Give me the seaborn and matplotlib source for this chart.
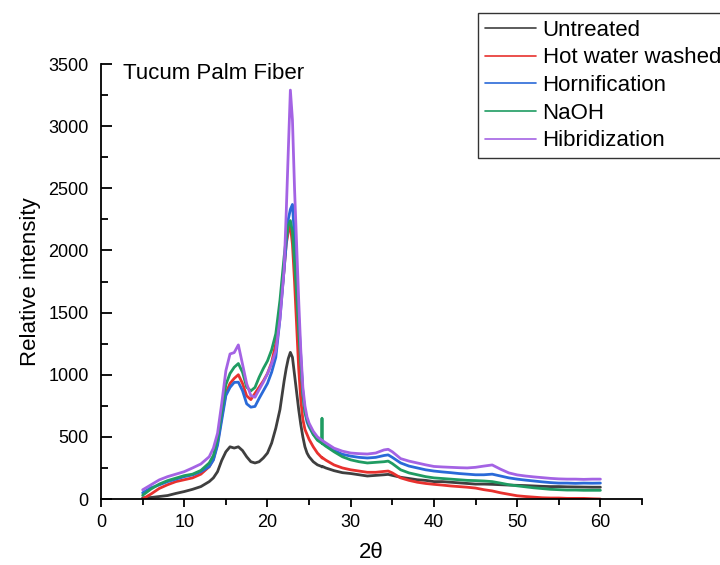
import pandas as pd
import seaborn as sns
import matplotlib.pyplot as plt
from matplotlib.ticker import MultipleLocator

# ---- Data ----
two_theta = [5, 6, 7, 8, 9, 10, 11, 12, 13, 13.5, 14, 14.5, 15, 15.5, 16, 16.5,
             17, 17.5, 18, 18.5, 19, 19.5, 20, 20.5, 21, 21.5, 22, 22.25, 22.5,
             22.75, 23, 23.25, 23.5, 23.75, 24, 24.25, 24.5, 24.75, 25, 25.5, 26,
             26.5, 26.55, 26.6, 27, 28, 29, 30, 31, 32, 33, 34, 34.5, 35, 36, 37,
             38, 39, 40, 41, 42, 43, 44, 45, 46, 47, 48, 49, 50, 51, 52, 53, 54,
             55, 56, 57, 58, 59, 60]

untreated = [10, 12, 20, 28, 45, 60, 78, 100, 140, 170, 220, 310, 380, 420, 410, 420,
             390, 340, 300, 290, 300, 330, 370, 450, 570, 720, 950, 1050, 1130,
             1180, 1140, 1000, 860, 720, 600, 500, 420, 370, 340, 300, 275,
             262, 258, 262, 250, 228, 212, 205, 195, 185, 190, 195, 198, 190, 175, 165,
             155, 150, 140, 140, 135, 130, 125, 120, 120, 118, 115, 112, 110, 108, 105, 102, 100,
             100, 98, 97, 96, 95, 95]

hot_water = [0, 40, 85, 115, 140, 155, 170, 200, 260, 320, 450, 660, 850, 930, 970, 1000,
             930, 830, 800, 850, 900, 950, 1010, 1100, 1250, 1500, 1850, 2050, 2150,
             2200, 2050, 1750, 1400, 1050, 800, 640, 560, 520, 480, 420, 370,
             335, 330, 332, 313, 274, 250, 235, 225, 215, 215, 222, 225, 210, 170, 150,
             135, 125, 118, 112, 105, 100, 95, 88, 75, 65, 50, 38, 26, 20, 15, 10, 8,
             8, 5, 5, 5, 2, 0]

hornification = [50, 90, 114, 140, 160, 180, 194, 220, 260, 313, 433, 633, 832, 898, 938, 940,
                 872, 766, 739, 745, 810, 870, 930, 1020, 1140, 1450, 1850, 2050, 2250,
                 2330, 2370, 2100, 1800, 1450, 1150, 850, 700, 620, 580, 520, 480,
                 455, 452, 450, 430, 390, 360, 345, 335, 330, 335, 350, 355, 335, 290, 265,
                 250, 235, 225, 218, 212, 205, 200, 195, 195, 200, 185, 170, 160, 152, 145, 138, 132,
                 128, 128, 126, 128, 127, 128]

naoh = [30, 80, 120, 148, 168, 188, 200, 230, 290, 350, 480, 700, 920, 1010, 1060, 1090,
        1020, 900, 870, 898, 980, 1050, 1111, 1200, 1330, 1600, 1950, 2100, 2200,
        2240, 2150, 1900, 1650, 1350, 1100, 850, 700, 640, 590, 520, 473,
        450, 650, 445, 425, 380, 340, 315, 300, 290, 295, 300, 305, 285, 235, 210,
        195, 180, 170, 165, 160, 155, 150, 148, 145, 140, 128, 115, 106, 98, 90, 84, 78,
        75, 72, 72, 70, 70, 70]

hibridization = [74, 114, 154, 180, 200, 220, 250, 282, 340, 409, 529, 768, 1032, 1167, 1178, 1240,
                 1085, 928, 832, 819, 880, 940, 1008, 1090, 1191, 1450, 1850, 2300, 2800,
                 3290, 3050, 2500, 2050, 1600, 1200, 900, 750, 660, 610, 545, 500,
                 475, 472, 470, 452, 409, 385, 370, 365, 362, 370, 395, 400, 380, 325, 305,
                 290, 275, 262, 258, 255, 252, 250, 255, 265, 274, 240, 210, 194, 185, 178, 172, 166,
                 162, 160, 160, 158, 160, 160]

series = {
    "Untreated": untreated,
    "Hot water washed": hot_water,
    "Hornification": hornification,
    "NaOH": naoh,
    "Hibridization": hibridization,
}
palette = {
    "Untreated": "#3f3f3f",
    "Hot water washed": "#e8312e",
    "Hornification": "#2a6ad8",
    "NaOH": "#1f9c62",
    "Hibridization": "#a463e4",
}

df = pd.concat(
    [pd.DataFrame({"two_theta": two_theta, "intensity": vals, "sample": name})
     for name, vals in series.items()],
    ignore_index=True,
)

# ---- Plot ----
sns.set_theme(style="ticks")
plt.rcParams["font.family"] = ["Liberation Sans", "DejaVu Sans"]
plt.rcParams["text.color"] = "black"
plt.rcParams["axes.labelcolor"] = "black"
plt.rcParams["xtick.color"] = "black"
plt.rcParams["ytick.color"] = "black"

fig = plt.figure(figsize=(7.2, 5.65), dpi=100)
ax = fig.add_axes([0.1403, 0.1168, 0.7514, 0.7699])

sns.lineplot(data=df, x="two_theta", y="intensity", hue="sample", palette=palette,
             estimator=None, sort=False, linewidth=2.0, ax=ax)

ax.set_xlim(0, 65)
ax.set_ylim(0, 3500)
ax.xaxis.set_major_locator(MultipleLocator(10))
ax.xaxis.set_minor_locator(MultipleLocator(5))
ax.yaxis.set_major_locator(MultipleLocator(500))
ax.yaxis.set_minor_locator(MultipleLocator(250))
ax.set_xticks(range(0, 61, 10))
ax.set_xticklabels([str(v) for v in range(0, 61, 10)])

for s in ["top", "right"]:
    ax.spines[s].set_visible(False)
for s in ["left", "bottom"]:
    ax.spines[s].set_linewidth(1.3)
    ax.spines[s].set_color("black")

ax.tick_params(axis="x", which="major", direction="out", length=6, width=1.3,
               labelsize=13, pad=5)
ax.tick_params(axis="x", which="minor", direction="out", length=4, width=1.3)
ax.tick_params(axis="y", which="major", direction="in", length=8, width=1.3,
               labelsize=13, pad=9)
ax.tick_params(axis="y", which="minor", direction="in", length=5, width=1.3)

ax.set_xlabel("2θ", fontsize=16, labelpad=8)
ax.set_ylabel("Relative intensity", fontsize=16, labelpad=5)

ax.text(0.041, 0.966, "Tucum Palm Fiber", transform=ax.transAxes, fontsize=16,
        va="baseline", ha="left")

handles, labels = ax.get_legend_handles_labels()
leg = ax.legend(handles, labels, loc="upper left", bbox_to_anchor=(0.664, 0.977),
                bbox_transform=fig.transFigure, fontsize=16, frameon=True,
                fancybox=False, edgecolor="#333333", framealpha=1,
                handlelength=2.3, handletextpad=0.3, labelspacing=0.3,
                borderpad=0.3, borderaxespad=0)
leg.get_frame().set_linewidth(1.0)
for line in leg.get_lines():
    line.set_linewidth(1.2)

fig.savefig("out.png", dpi=100)
plt.close(fig)
